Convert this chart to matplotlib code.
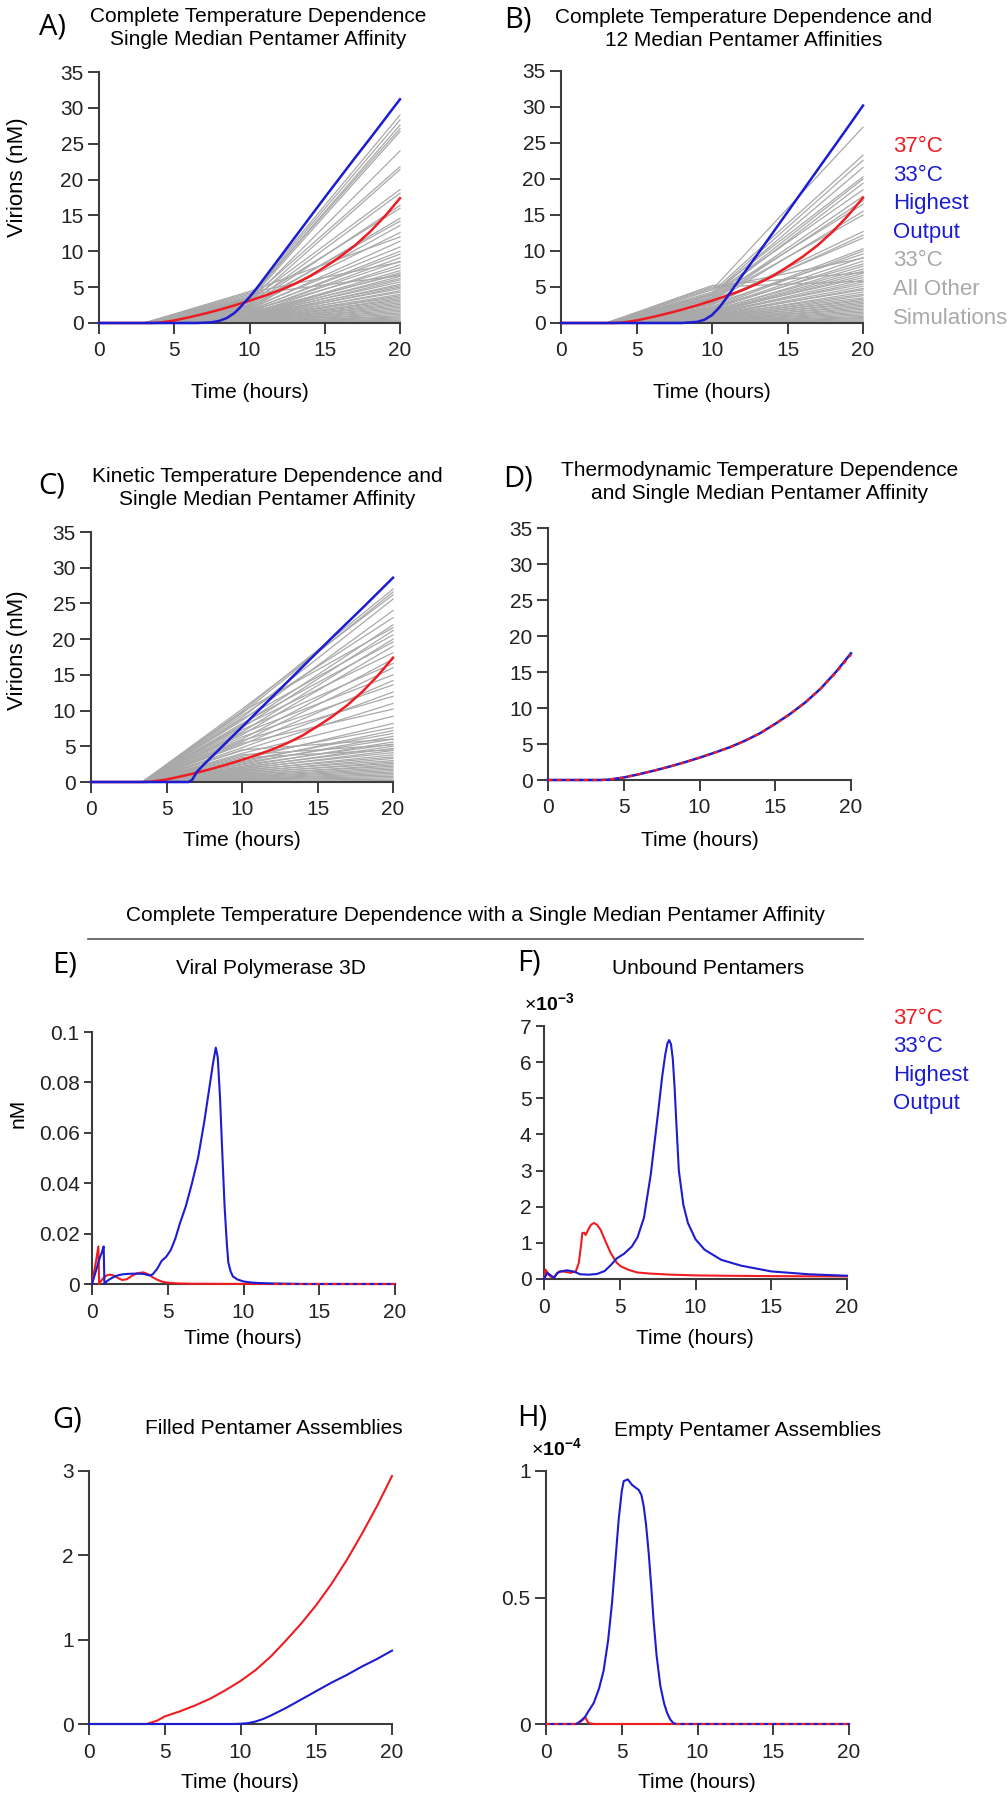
import matplotlib
matplotlib.use("Agg")
import matplotlib.pyplot as plt
import numpy as np
from matplotlib.lines import Line2D

plt.rcParams['font.family'] = ['Liberation Sans', 'DejaVu Sans']
plt.rcParams['mathtext.fontset'] = 'custom'
plt.rcParams['mathtext.rm'] = 'Liberation Sans'
plt.rcParams['mathtext.bf'] = 'Liberation Sans:bold'

RED = '#ee1d23'
BLUE = '#1c1cd2'
GRAY = '#a9a9a9'
AXC = '#3c3c3c'

# ---------------- data ----------------
# 37C reference curve (panels A-D)
red_t = [0, 3.5, 4, 4.5, 5, 6, 7, 8, 9, 10, 11, 12, 13, 14, 15, 16, 17, 18, 19, 20]
red_v = [0, 0, 0.05, 0.2, 0.35, 0.8, 1.3, 1.85, 2.45, 3.1, 3.8, 4.55, 5.45, 6.5, 7.8, 9.2, 10.8, 12.7, 14.9, 17.4]

# 33C highest output
blue_A_t = [0, 6.5, 7.5, 8, 8.5, 9, 9.3, 9.6, 10, 10.5, 11, 12, 13, 14, 15, 16, 17, 18, 19, 20]
blue_A_v = [0, 0, 0.1, 0.3, 0.7, 1.4, 2.0, 2.7, 3.6, 4.9, 6.3, 9.1, 11.9, 14.7, 17.5, 20.25, 23.0, 25.7, 28.45, 31.2]
blue_B_t = [0, 8, 9, 9.5, 10, 10.5, 11, 11.5, 12, 13, 14, 15, 16, 17, 18, 19, 20]
blue_B_v = [0, 0, 0.15, 0.45, 1.1, 2.2, 3.6, 5.1, 6.6, 9.5, 12.45, 15.4, 18.35, 21.3, 24.25, 27.2, 30.2]
blue_C_t = [0, 6.45, 6.7, 7.0, 7.5, 10, 12, 14, 16, 18, 20]
blue_C_v = [0, 0, 0.3, 1.4, 2.5, 7.7, 11.9, 16.1, 20.3, 24.4, 28.6]
blue_D_v = [0, 0, 0.05, 0.2, 0.35, 0.8, 1.3, 1.85, 2.45, 3.1, 3.8, 4.55, 5.45, 6.5, 7.8, 9.2, 10.8, 12.7, 15.0, 17.6]

# all other 33C simulations: value at onset, t=10 and t=20
gray_onset = {'A': 3.0, 'B': 3.0, 'C': 3.4}
gray_A_10 = [4.4, 4.2, 4.0, 3.8, 3.6, 3.4, 3.5, 3.2, 3.0, 3.3, 2.8, 3.1, 2.6, 2.4, 2.9, 2.2, 2.5, 2.0, 2.3, 1.9, 2.1,
             1.7, 1.8, 1.5, 1.6, 1.3, 1.7, 1.2, 1.1, 1.5, 1.0, 1.3, 0.9, 1.1, 0.8, 1.0, 0.7, 0.9, 0.6, 0.8, 0.6,
             0.5, 0.7, 0.4, 0.6, 0.5, 0.4, 0.3, 0.45, 0.3, 0.35, 0.25, 0.3, 0.2, 0.25, 0.15, 0.2, 0.12, 0.1,
             0.08, 0.06, 0.05, 0.03]
gray_A_20 = [12.0, 8.5, 6.6, 29.0, 28.3, 27.6, 27.1, 26.7, 24.0, 21.8, 21.4, 18.6, 18.1, 16.4, 16.0, 14.6, 14.2,
             13.6, 12.6, 11.4, 10.6, 10.0, 9.6, 9.1, 8.6, 8.1, 7.7, 7.3, 7.0, 6.8, 6.5, 6.2, 6.0, 5.7, 5.4, 5.2,
             5.0, 4.8, 4.5, 4.3, 4.0, 3.8, 3.6, 3.4, 3.2, 3.0, 2.8, 2.6, 2.4, 2.2, 2.0, 1.8, 1.6, 1.4, 1.2, 1.0,
             0.85, 0.7, 0.55, 0.4, 0.28, 0.18, 0.1]
gray_B_10 = [4.6, 4.3, 4.0, 3.8, 4.1, 3.6, 3.4, 3.9, 3.2, 3.0, 3.5, 2.8, 3.3, 2.7, 2.5, 2.9, 2.3, 2.1, 2.6, 2.0,
             1.9, 2.2, 1.7, 1.8, 1.6, 1.5, 1.4, 1.6, 1.3, 1.2, 1.4, 1.1, 1.0, 1.2, 0.9, 1.0, 0.8, 0.9, 0.7, 0.8,
             0.6, 0.7, 0.5, 0.6, 0.45, 0.5, 0.4, 0.35, 0.3, 0.25, 0.2, 0.18, 0.15, 0.12, 0.1, 0.06, 5.0, 5.2, 4.8]
gray_B_20 = [27.2, 23.3, 22.6, 21.6, 20.3, 20.0, 19.4, 18.5, 17.6, 17.0, 16.5, 15.5, 15.0, 12.7, 12.2, 11.8, 10.3,
             10.0, 9.6, 9.1, 8.6, 8.2, 7.9, 7.5, 7.2, 6.9, 6.6, 6.3, 6.0, 5.7, 5.4, 5.1, 4.8, 4.6, 4.3, 4.0, 3.8,
             3.5, 3.3, 3.1, 2.9, 2.7, 2.5, 2.3, 2.1, 1.9, 1.7, 1.5, 1.3, 1.1, 0.9, 0.75, 0.6, 0.45, 0.3, 0.15,
             5.8, 7.0, 9.0]
gray_C_10 = [9.9, 9.6, 10.2, 9.0, 8.6, 9.3, 8.0, 9.8, 7.6, 8.8, 7.0, 8.2, 6.6, 7.8, 6.0, 7.3, 5.6, 6.8, 5.2, 6.3,
             4.8, 5.8, 4.4, 5.4, 4.0, 3.2, 3.6, 2.8, 3.0, 2.5, 2.7, 2.2, 2.4, 2.0, 2.1, 1.8, 1.9, 1.6, 1.7, 1.4,
             1.5, 1.2, 1.3, 1.0, 1.1, 0.9, 0.8, 0.7, 0.6, 0.5, 0.45, 0.35, 0.3, 0.2, 0.1, 4.5, 3.8, 3.4]
gray_C_20 = [27.0, 26.6, 26.2, 25.6, 24.0, 23.0, 22.0, 21.6, 21.2, 20.6, 20.0, 19.6, 19.0, 18.1, 17.2, 16.6, 16.0,
             15.0, 14.2, 13.6, 12.6, 12.0, 11.0, 10.2, 9.2, 8.2, 7.6, 7.2, 6.8, 6.4, 6.0, 5.6, 5.3, 5.0, 4.7, 4.4,
             4.1, 3.8, 3.5, 3.3, 3.0, 2.8, 2.6, 2.4, 2.2, 2.0, 1.8, 1.6, 1.4, 1.2, 1.0, 0.8, 0.6, 0.4, 0.2, 6.0,
             5.2, 4.5]

# E) viral polymerase 3D (nM)
t_E = [0, 0.1, 0.25, 0.42, 0.47, 0.55, 0.65, 0.77, 0.82, 0.9, 1.0, 1.2, 1.5, 1.8, 2.0, 2.3, 2.7, 3.0, 3.4, 3.8,
       4.0, 4.3, 4.6, 4.9, 5.2, 5.5, 5.8, 6.2, 6.6, 7.0, 7.4, 7.8, 8.0, 8.17, 8.3, 8.45, 8.6, 8.75, 8.9, 9.0,
       9.15, 9.3, 9.6, 10, 10.5, 11, 12, 13, 14, 16, 18, 20]
red_E = [0, 0.0035, 0.0085, 0.0149, 0.0, 0.0008, 0.0016, 0.0024, 0.0027, 0.0031, 0.0035, 0.0037, 0.0032, 0.0021,
         0.0016, 0.0019, 0.0035, 0.0043, 0.0046, 0.0036, 0.0027, 0.0017, 0.001, 0.0006, 0.0004, 0.0003, 0.0002,
         0.00015, 0.0001, 0.0001, 0.0001, 0.00008, 0.00008, 0.00006, 0.00006, 0.00005, 0.00005, 0.00004, 0.00004,
         0.00003, 0.00003, 0.00003, 0.00002, 0.00002, 0.00002, 0.00001, 0, 0, 0, 0, 0, 0]
blue_E = [0, 0.002, 0.005, 0.0085, 0.0095, 0.011, 0.0125, 0.0149, 0.0, 0.0006, 0.0012, 0.002, 0.003, 0.0036,
          0.0038, 0.004, 0.0041, 0.0041, 0.004, 0.0034, 0.0038, 0.006, 0.0092, 0.0108, 0.0135, 0.018, 0.024, 0.031,
          0.040, 0.050, 0.064, 0.080, 0.088, 0.0938, 0.090, 0.074, 0.052, 0.031, 0.016, 0.0085, 0.005, 0.003,
          0.0018, 0.001, 0.0006, 0.0004, 0.0002, 0.0001, 0, 0, 0, 0]

# F) unbound pentamers (x1e-3)
red_F_t = [0, 0.11, 0.3, 0.44, 0.6, 0.8, 1.0, 1.4, 1.76, 2.1, 2.3, 2.45, 2.53, 2.65, 2.75, 2.9, 3.1, 3.3, 3.5,
           3.74, 4.0, 4.4, 4.8, 5.07, 5.6, 6.17, 7, 8.4, 10, 12, 15, 20]
red_F_v = [0, 0.26, 0.12, 0.07, 0.03, 0.12, 0.21, 0.2, 0.17, 0.21, 0.45, 0.95, 1.27, 1.28, 1.22, 1.35, 1.5, 1.55,
           1.5, 1.36, 1.1, 0.72, 0.45, 0.35, 0.25, 0.18, 0.15, 0.12, 0.1, 0.09, 0.08, 0.07]
blue_F_t = [0, 0.22, 0.45, 0.66, 0.88, 1.2, 1.54, 2.0, 2.4, 3.0, 3.5, 4.0, 4.4, 4.8, 5.29, 5.8, 6.17, 6.6, 7.05,
            7.53, 7.8, 8.0, 8.15, 8.26, 8.38, 8.5, 8.62, 8.75, 8.9, 9.2, 9.5, 10, 10.6, 11.7, 13, 15, 17.5, 20]
blue_F_v = [0, 0.17, 0.1, 0.03, 0.17, 0.22, 0.24, 0.2, 0.13, 0.12, 0.14, 0.22, 0.38, 0.57, 0.7, 0.9, 1.15, 1.7,
            2.9, 4.6, 5.6, 6.2, 6.52, 6.61, 6.5, 6.1, 5.3, 4.2, 3.0, 2.05, 1.55, 1.1, 0.81, 0.53, 0.37, 0.21, 0.13,
            0.09]

# G) filled pentamer assemblies
red_G_t = [0, 3.8, 4.5, 5, 6, 7, 8, 9, 10, 11, 12, 13, 14, 15, 16, 17, 18, 19, 20]
red_G_v = [0, 0, 0.04, 0.09, 0.15, 0.22, 0.30, 0.40, 0.51, 0.64, 0.80, 0.99, 1.19, 1.41, 1.66, 1.94, 2.25, 2.58, 2.94]
blue_G_t = [0, 9.5, 10, 10.5, 11, 11.5, 12, 13, 14, 15, 16, 17, 18, 19, 20]
blue_G_v = [0, 0, 0.003, 0.01, 0.03, 0.06, 0.1, 0.19, 0.29, 0.39, 0.49, 0.58, 0.68, 0.77, 0.87]

# H) empty pentamer assemblies (x1e-4)
t_H = [0, 1, 2.0, 2.2, 2.4, 2.6, 2.8, 3.15, 3.5, 3.8, 4.1, 4.36, 4.6, 4.8, 5.0, 5.13, 5.4, 5.68, 5.9, 6.12, 6.3,
       6.45, 6.6, 6.78, 6.95, 7.1, 7.3, 7.55, 7.8, 8.0, 8.2, 8.4, 8.6, 9, 10, 12, 14, 16, 18, 20]
blue_H = [0, 0, 0, 0.008, 0.018, 0.03, 0.05, 0.083, 0.14, 0.21, 0.33, 0.48, 0.66, 0.81, 0.92, 0.96, 0.967, 0.945,
          0.935, 0.925, 0.905, 0.86, 0.79, 0.675, 0.54, 0.41, 0.27, 0.15, 0.08, 0.043, 0.018, 0.004, 0, 0, 0, 0,
          0, 0, 0, 0]
red_H = [0, 0, 0, 0.006, 0.015, 0.026, 0.004, 0, 0, 0, 0, 0, 0, 0, 0, 0, 0, 0, 0, 0, 0, 0, 0, 0, 0, 0, 0, 0, 0, 0,
         0, 0, 0, 0, 0, 0, 0, 0, 0, 0]

xticks = [0, 5, 10, 15, 20]

# ---------------- figure ----------------
W, H = 1008, 1796
fig = plt.figure(figsize=(W / 100, H / 100), dpi=100)


def ftext(x, y, s, **kw):
    kw.setdefault('va', 'center')
    return fig.text(x / W, 1 - y / H, s, **kw)


def panel(x0, x1, y0, y1, ymax, yticks, ylabels, xpad=5, ylen=8):
    ax = fig.add_axes([x0 / W, 1 - y1 / H, (x1 - x0) / W, (y1 - y0) / H])
    ax.set_xlim(0, 20)
    ax.set_ylim(0, ymax)
    for s in ['top', 'right']:
        ax.spines[s].set_visible(False)
    for s in ['left', 'bottom']:
        ax.spines[s].set_color(AXC)
        ax.spines[s].set_linewidth(1.5)
    ax.set_xticks(xticks)
    ax.set_yticks(yticks)
    ax.set_yticklabels(ylabels)
    ax.tick_params(axis='x', length=8, width=1.4, color=AXC, labelsize=15, pad=xpad, labelcolor='#222222')
    ax.tick_params(axis='y', length=ylen, width=1.4, color=AXC, labelsize=15, pad=3, labelcolor='#222222')
    return ax


ab_ticks = [0, 5, 10, 15, 20, 25, 30, 35]
ab_labels = [str(v) for v in ab_ticks]

axA = panel(99, 400, 72, 323, 35, ab_ticks, ab_labels)
axB = panel(561, 863, 71, 323, 35, ab_ticks, ab_labels)
axC = panel(91, 393, 532, 782, 35, ab_ticks, ab_labels)
axD = panel(548, 851, 528, 780, 35, ab_ticks, ab_labels)

gray_sets = {'A': (axA, gray_A_10, gray_A_20), 'B': (axB, gray_B_10, gray_B_20), 'C': (axC, gray_C_10, gray_C_20)}
for key, (ax, v10, v20) in gray_sets.items():
    knots = [0, gray_onset[key], 10, 20]
    for a, b in zip(v10, v20):
        ax.plot(knots, [0, 0, a, b], color=GRAY, lw=0.9, zorder=1)

for ax, bt, bv in [(axA, blue_A_t, blue_A_v), (axB, blue_B_t, blue_B_v), (axC, blue_C_t, blue_C_v)]:
    ax.plot(red_t, red_v, color=RED, lw=1.8, zorder=3)
    ax.plot(bt, bv, color=BLUE, lw=1.8, zorder=4)

axD.plot(red_t, blue_D_v, color=BLUE, lw=1.8, zorder=3)
axD.plot(red_t, red_v, color=RED, lw=1.6, ls=(0, (2, 2)), zorder=4)

axE = panel(92, 395, 1032, 1284, 0.1, [0, 0.02, 0.04, 0.06, 0.08, 0.1],
            ['0', '0.02', '0.04', '0.06', '0.08', '0.1'], xpad=6, ylen=6)
axF = panel(544, 847, 1026, 1279, 7, list(range(8)), [str(v) for v in range(8)], xpad=6, ylen=6)
axG = panel(89, 392, 1471, 1724, 3, [0, 1, 2, 3], ['0', '1', '2', '3'], xpad=6)
axH = panel(546, 849, 1471, 1724, 1, [0, 0.5, 1], ['0', '0.5', '1'], xpad=6)


def overlap_plot(ax, t, r, b):
    r = np.array(r, dtype=float)
    b = np.array(b, dtype=float)
    ax.plot(t, r, color=RED, lw=1.5, zorder=3)
    ax.plot(t, b, color=BLUE, lw=1.5, zorder=4)
    same = np.isclose(r, b, atol=abs(b).max() * 0.003)
    ax.plot(t, np.where(same, r, np.nan), color=RED, lw=1.5, ls=(0, (2, 2)), zorder=5)


overlap_plot(axE, t_E, red_E, blue_E)
axF.plot(red_F_t, red_F_v, color=RED, lw=1.5, zorder=3)
axF.plot(blue_F_t, blue_F_v, color=BLUE, lw=1.5, zorder=4)
axG.plot(red_G_t, red_G_v, color=RED, lw=1.5, zorder=3)
axG.plot(blue_G_t, blue_G_v, color=BLUE, lw=1.5, zorder=4)
overlap_plot(axH, t_H, red_H, blue_H)

for ax in [axA, axB, axC, axD, axE, axF, axG, axH]:
    for ln in ax.lines:
        ln.set_clip_on(False)

# ---------------- text ----------------
LBL = dict(fontsize=21, family=['Open Sans', 'DejaVu Sans'], ha='left')
TTL = dict(fontsize=15, ha='center', linespacing=1.3)

ftext(39, 27, 'A)', **LBL)
ftext(504, 20, 'B)', **LBL)
ftext(38, 486, 'C)', **LBL)
ftext(503, 479, 'D)', **LBL)
ftext(258, 28, 'Complete Temperature Dependence\nSingle Median Pentamer Affinity', **TTL)
ftext(744, 29, 'Complete Temperature Dependence and\n12 Median Pentamer Affinities', **TTL)
ftext(267, 488, 'Kinetic Temperature Dependence and\nSingle Median Pentamer Affinity', **TTL)
ftext(760, 482, 'Thermodynamic Temperature Dependence\nand Single Median Pentamer Affinity', **TTL)

ftext(18, 177, 'Virions (nM)', fontsize=16, rotation=90, ha='center')
ftext(18, 650, 'Virions (nM)', fontsize=16, rotation=90, ha='center')
ftext(18, 1113, 'nM', fontsize=15, rotation=90, ha='center')

for x, y in [(250, 393), (712, 392), (242, 840), (700, 840), (243, 1338), (695, 1338), (240, 1782), (697, 1782)]:
    ftext(x, y, 'Time (hours)', fontsize=15, ha='center')

legB = [('37°C', RED), ('33°C', BLUE), ('Highest', BLUE), ('Output', BLUE),
        ('33°C', GRAY), ('All Other', GRAY), ('Simulations', GRAY)]
for i, (s, c) in enumerate(legB):
    ftext(893, 147 + i * 28.5, s, color=c, fontsize=16, ha='left')
for i, (s, c) in enumerate(legB[:4]):
    ftext(893, 1018 + i * 28.5, s, color=c, fontsize=16, ha='left')

ftext(475, 915, 'Complete Temperature Dependence with a Single Median Pentamer Affinity', fontsize=15, ha='center')
fig.add_artist(Line2D([88 / W, 863 / W], [1 - 939 / H, 1 - 939 / H], color='#555555', lw=1.2))

ftext(52, 965, 'E)', **LBL)
ftext(517, 963, 'F)', **LBL)
ftext(52, 1420, 'G)', **LBL)
ftext(517, 1418, 'H)', **LBL)
ftext(271, 968, 'Viral Polymerase 3D', fontsize=15, ha='center')
ftext(708, 968, 'Unbound Pentamers', fontsize=15, ha='center')
ftext(274, 1428, 'Filled Pentamer Assemblies', fontsize=15, ha='center')
ftext(748, 1430, 'Empty Pentamer Assemblies', fontsize=15, ha='center')

ftext(524, 1003, r'$\times\mathbf{10^{-3}}$', fontsize=14, ha='left')
ftext(531, 1448, r'$\times\mathbf{10^{-4}}$', fontsize=14, ha='left')

fig.savefig('out.png', dpi=100, facecolor='white')
